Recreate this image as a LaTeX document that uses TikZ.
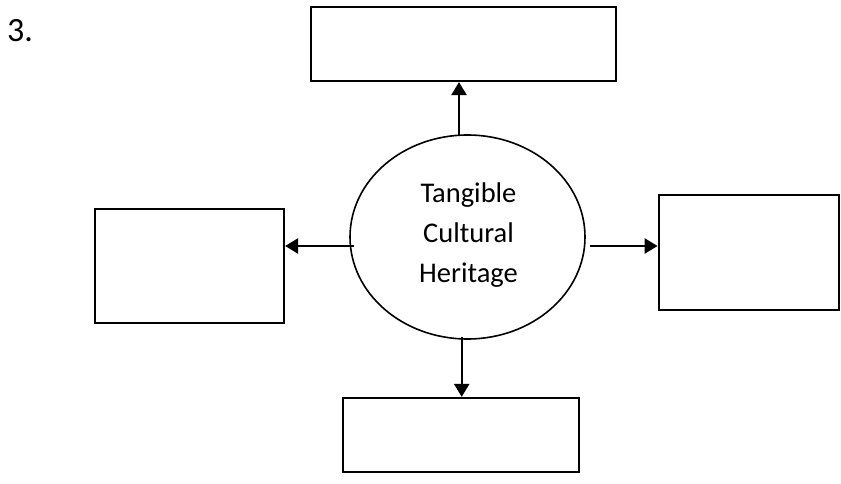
\documentclass[tikz,border=0pt]{standalone}
\usepackage{fontspec}
\setmainfont{Carlito}
\usetikzlibrary{arrows.meta,shapes.geometric}
\begin{document}
\begin{tikzpicture}[x=1pt,y=-1pt,
  box/.style={draw,line width=2.2pt,minimum width=#1,inner sep=0pt},
  arr/.style={line width=2.4pt,-{Triangle[length=13pt,width=15pt]}},
  lbl/.style={font=\fontsize{28.5}{40}\selectfont}]
\useasboundingbox (0,0) rectangle (841,484);
\node[anchor=base west,font=\fontsize{34}{40}\selectfont,inner sep=0pt] (num) at (7,42) {3.};
\node[box=305pt,minimum height=74pt] (top) at (463.5,44) {};
\node[box=189pt,minimum height=114pt] (left) at (189.5,266) {};
\node[box=180pt,minimum height=115pt] (right) at (748.7,252.5) {};
\node[box=236pt,minimum height=74pt] (bot) at (461,435) {};
\node[draw,ellipse,line width=1.6pt,minimum width=235pt,minimum height=204pt,inner sep=0pt] (c) at (467.5,237) {};
\node[align=center,lbl,inner sep=0pt] (ctext) at (468.5,235) {Tangible\\Cultural\\Heritage};
\coordinate (t0) at (459,135);
\coordinate (l0) at (354,246);
\coordinate (r0) at (590,246);
\coordinate (b0) at (461.7,337);
\draw[arr] (t0) -- (t0 |- top.south);
\draw[arr] (l0) -- (l0 -| left.east);
\draw[arr] (r0) -- (r0 -| right.west);
\draw[arr] (b0) -- (b0 |- bot.north);
\end{tikzpicture}
\end{document}
